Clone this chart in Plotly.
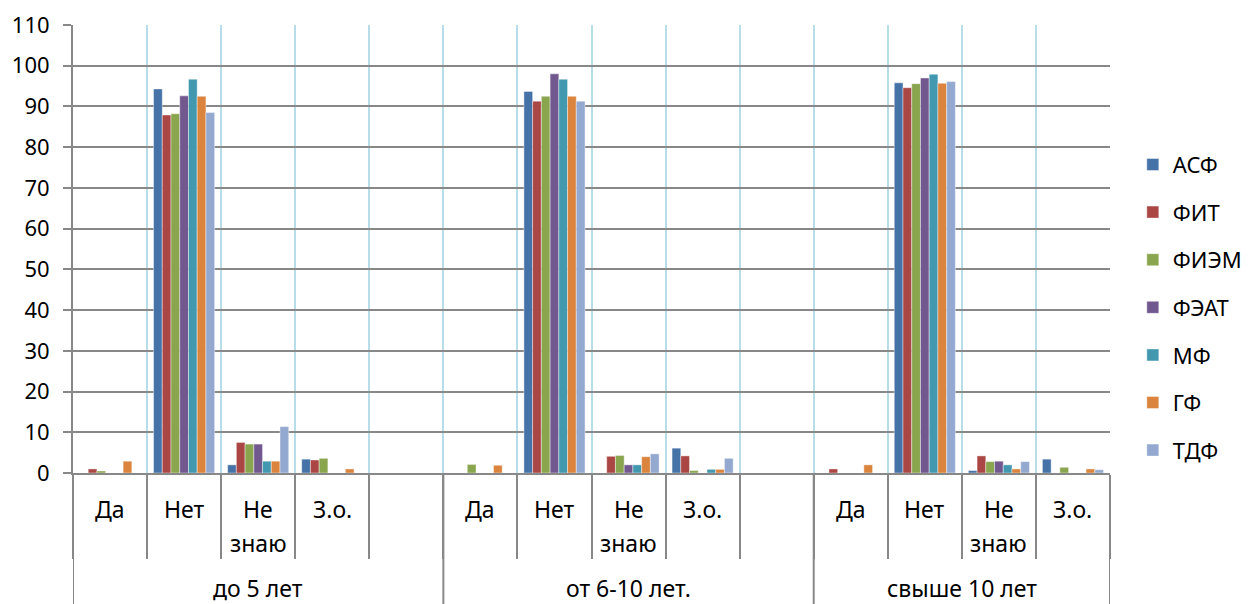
import plotly.graph_objects as go

groups = ["до 5 лет", "от 6-10 лет.", "свыше 10 лет"]
answers = ["Да", "Нет", "Не знаю", "З.о."]
series = ["АСФ", "ФИТ", "ФИЭМ", "ФЭАТ", "МФ", "ГФ", "ТДФ"]
colors = ["#4572A7", "#AA4643", "#89A54E", "#71588F", "#4198AF", "#DB843D", "#93A9CF"]

# values per series: for each group, [Да, Нет, Не знаю, З.о.]
asf = [[0, 94.3, 2.0, 3.4], [0, 93.7, 0, 6.1], [0, 95.8, 0.6, 3.4]]
fit = [[1.0, 87.9, 7.5, 3.2], [0, 91.3, 4.1, 4.2], [1.0, 94.6, 4.2, 0]]
fiem = [[0.5, 88.2, 7.1, 3.6], [2.1, 92.5, 4.3, 0.6], [0, 95.6, 2.8, 1.4]]
feat = [[0, 92.6, 7.1, 0], [0, 98.0, 2.0, 0], [0, 97.0, 2.9, 0]]
mf = [[0, 96.7, 2.9, 0], [0, 96.7, 2.0, 0.9], [0, 97.9, 2.0, 0]]
gf = [[2.9, 92.5, 2.9, 1.0], [1.9, 92.5, 4.0, 0.9], [2.0, 95.7, 1.0, 1.0]]
tdf = [[0, 88.5, 11.4, 0], [0, 91.3, 4.7, 3.6], [0, 96.1, 2.8, 0.8]]
values = [asf, fit, fiem, feat, mf, gf, tdf]

# category slots: each group has 4 answers, the first two groups also have an empty slot
cats = []
for gi, g in enumerate(groups):
    for a in answers:
        cats.append(g + "|" + a)
    if gi < len(groups) - 1:
        cats.append(g + "|")

FONT = "Noto Sans"
FS = 23
GRAY = "#888888"

fig = go.Figure()
for name, col, vals in zip(series, colors, values):
    xs, ys = [], []
    for gi, g in enumerate(groups):
        for ai, a in enumerate(answers):
            xs.append(g + "|" + a)
            ys.append(vals[gi][ai])
    fig.add_trace(go.Bar(
        x=xs, y=ys, name=name, legendgroup=name,
        marker=dict(color=col, line=dict(width=0.6, color="rgba(255,255,255,0.7)")),
    ))

annotations = []
line_y = [-0.0804, -0.1563]  # first and second text line of the category row
for gi, g in enumerate(groups):
    for a in answers:
        for li, word in enumerate(a.split(" ")):
            annotations.append(dict(
                x=g + "|" + a, y=line_y[li], xref="x", yref="paper", text=word,
                showarrow=False, xanchor="center", yanchor="middle",
                font=dict(family=FONT, size=FS, color="#000000"),
            ))
# group labels, centred over the group's slots
start = 0
shapes = []
bounds = [-0.5]
for gi, g in enumerate(groups):
    n = len([c for c in cats if c.startswith(g + "|")])
    center = start + (n - 1) / 2
    annotations.append(dict(
        x=center, y=-0.256, xref="x", yref="paper", text=g,
        showarrow=False, xanchor="center", yanchor="middle",
        font=dict(family=FONT, size=FS, color="#000000"),
    ))
    start += n
    bounds.append(start - 0.5)
for b in bounds:
    shapes.append(dict(type="line", xref="x", yref="paper", x0=b, x1=b, y0=0, y1=-0.35,
                       line=dict(color=GRAY, width=2)))

fig.update_layout(
    width=1241, height=596,
    margin=dict(l=65, r=139, t=17, b=131, autoexpand=False),
    paper_bgcolor="white", plot_bgcolor="white",
    barmode="group", bargap=0.175, bargroupgap=0,
    font=dict(family=FONT, size=FS, color="#000000"),
    showlegend=True,
    legend=dict(x=1.022, xanchor="left", y=0.735, yanchor="top",
                font=dict(family=FONT, size=22), tracegroupgap=16,
                bgcolor="rgba(0,0,0,0)"),
    annotations=annotations, shapes=shapes,
    xaxis=dict(
        type="category", categoryorder="array", categoryarray=cats,
        range=[-0.5, len(cats) - 0.5],
        showticklabels=False, tickson="boundaries", ticks="outside", ticklen=84,
        tickcolor=GRAY, tickwidth=2,
        showgrid=True, gridcolor="#B7DEE8", gridwidth=2,
        showline=True, linecolor=GRAY, linewidth=2, zeroline=False,
    ),
    yaxis=dict(
        range=[0, 110], dtick=10, tick0=0,
        showgrid=True, gridcolor=GRAY, gridwidth=1.5,
        showline=True, linecolor=GRAY, linewidth=2,
        ticks="outside", ticklen=8, tickcolor=GRAY, tickwidth=2,
        ticklabelstandoff=9,
        zeroline=False, tickfont=dict(family=FONT, size=22),
    ),
)

fig.write_html("out.html")
